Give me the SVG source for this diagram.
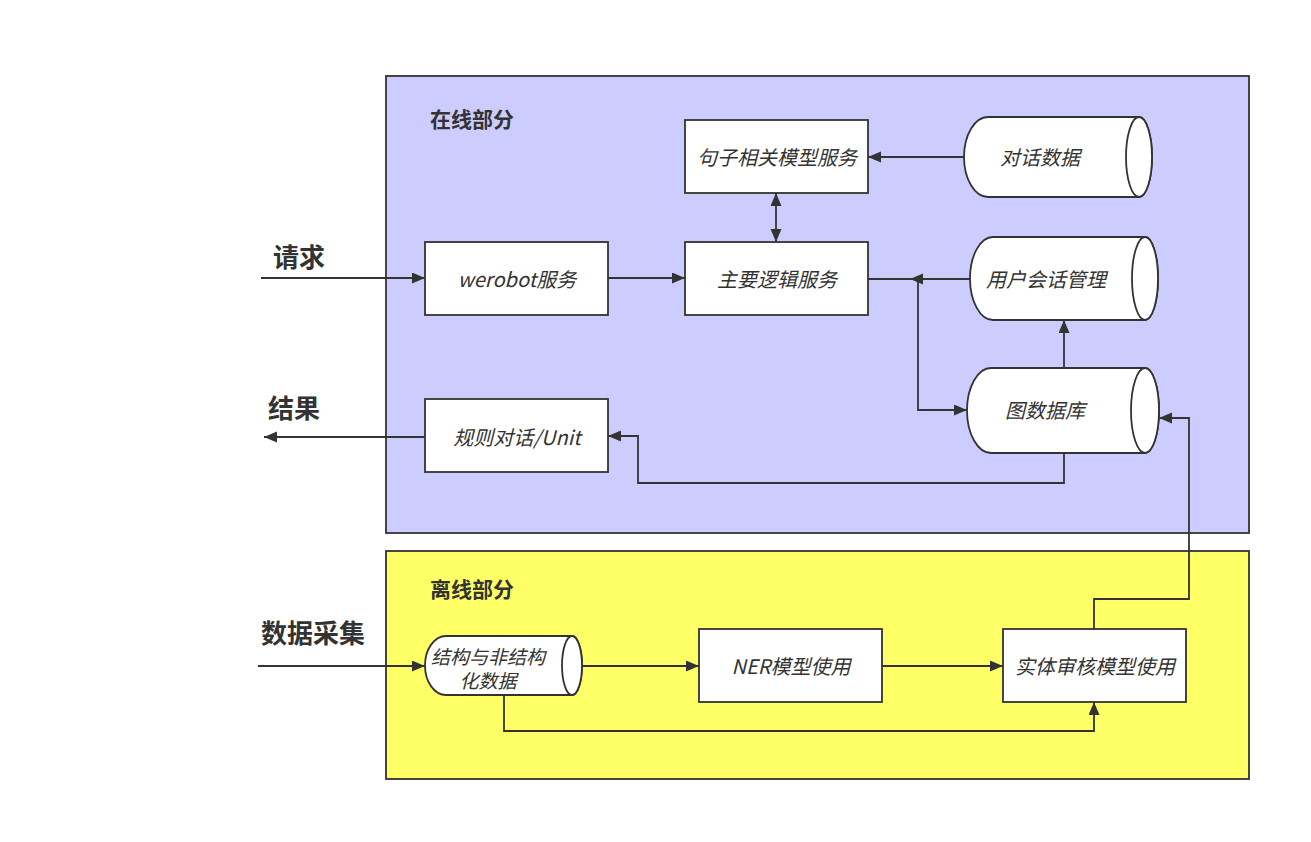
<svg xmlns="http://www.w3.org/2000/svg" width="1311" height="842" viewBox="0 0 1311 842">
<style>
.cont{stroke:#333;stroke-width:1.8}
.box{fill:#fff;stroke:#333;stroke-width:1.8}
.cyl{fill:#fff;stroke:#333;stroke-width:1.8}
.lbl{font-family:"Noto Sans CJK SC","Noto Sans",sans-serif;font-style:italic;font-size:20px;fill:#333;text-anchor:middle;dominant-baseline:central}
.big{font-family:"Noto Sans CJK SC","Noto Sans",sans-serif;font-weight:bold;font-size:26px;fill:#333;text-anchor:middle;dominant-baseline:central}
.sec{font-family:"Noto Sans CJK SC","Noto Sans",sans-serif;font-weight:bold;font-size:21px;fill:#333;text-anchor:middle;dominant-baseline:central}
.edge{fill:none;stroke:#333;stroke-width:1.8}
</style>
<defs>
<marker id="ah" markerUnits="userSpaceOnUse" markerWidth="14" markerHeight="12" refX="13" refY="5.5" orient="auto-start-reverse">
<path d="M0,0 L13,5.5 L0,11 Z" fill="#333"/>
</marker>
</defs>
<rect width="1311" height="842" fill="#fff"/>
<g id="online">
<rect class="cont" x="386" y="76" width="863" height="457" fill="#ccccff"/>
<text class="sec" x="472" y="118">在线部分</text>
</g>
<g id="offline">
<rect class="cont" x="386" y="551" width="863" height="228" fill="#ffff66"/>
<text class="sec" x="472" y="588">离线部分</text>
</g>
<g id="label-request"><text class="big" x="299" y="255">请求</text></g>
<g id="label-result"><text class="big" x="294" y="406">结果</text></g>
<g id="label-collect"><text class="big" x="313" y="631">数据采集</text></g>
<g id="connectors">
<path class="edge" d="M261,278 L425,278" marker-end="url(#ah)"/>
<path class="edge" d="M608,278 L685,278" marker-end="url(#ah)"/>
<path class="edge" d="M964,157 L868,157" marker-end="url(#ah)"/>
<path class="edge" d="M776,193 L776,242" marker-start="url(#ah)" marker-end="url(#ah)"/>
<path class="edge" d="M970,279 L910,279" marker-end="url(#ah)"/>
<path class="edge" d="M868,279 L918,279 L918,410 L967,410" marker-end="url(#ah)"/>
<path class="edge" d="M1064,368 L1064,320" marker-end="url(#ah)"/>
<path class="edge" d="M1064,453 L1064,483 L638,483 L638,436 L608,436" marker-end="url(#ah)"/>
<path class="edge" d="M425,437 L264,437" marker-end="url(#ah)"/>
<path class="edge" d="M1094,629 L1094,599 L1189,599 L1189,418 L1159,418" marker-end="url(#ah)"/>
<path class="edge" d="M258,666 L425,666" marker-end="url(#ah)"/>
<path class="edge" d="M582,666 L699,666" marker-end="url(#ah)"/>
<path class="edge" d="M882,666 L1003,666" marker-end="url(#ah)"/>
<path class="edge" d="M504,695 L504,731 L1094,731 L1094,702" marker-end="url(#ah)"/>
</g>
<g id="sentence-model">
<rect class="box" x="685" y="120" width="183" height="73"/>
<text class="lbl" x="777" y="156">句子相关模型服务</text>
</g>
<g id="werobot">
<rect class="box" x="425" y="242" width="183" height="73"/>
<text class="lbl" x="517" y="278">werobot服务</text>
</g>
<g id="main-logic">
<rect class="box" x="685" y="242" width="183" height="73"/>
<text class="lbl" x="777" y="278">主要逻辑服务</text>
</g>
<g id="rule-dialog">
<rect class="box" x="425" y="399" width="183" height="73"/>
<text class="lbl" x="517" y="436">规则对话/Unit</text>
</g>
<g id="dialog-data">
<path class="cyl" d="M988,117 L1139,117 A13,40 0 0 1 1139,197 L988,197 A24,40 0 0 1 988,117 Z"/>
<ellipse class="cyl" cx="1139" cy="157" rx="13" ry="40"/>
<text class="lbl" x="1040" y="156">对话数据</text>
</g>
<g id="session-mgmt">
<path class="cyl" d="M993,237 L1145,237 A13,41.5 0 0 1 1145,320 L993,320 A23,41.5 0 0 1 993,237 Z"/>
<ellipse class="cyl" cx="1145" cy="278.5" rx="13" ry="41.5"/>
<text class="lbl" x="1046" y="278">用户会话管理</text>
</g>
<g id="graph-db">
<path class="cyl" d="M991,368 L1145,368 A14,42.5 0 0 1 1145,453 L991,453 A24,42.5 0 0 1 991,368 Z"/>
<ellipse class="cyl" cx="1145" cy="410.5" rx="14" ry="42.5"/>
<text class="lbl" x="1045" y="409">图数据库</text>
</g>
<g id="raw-data">
<path class="cyl" d="M446,636 L572,636 A10,29.5 0 0 1 572,695 L446,695 A21,29.5 0 0 1 446,636 Z"/>
<ellipse class="cyl" cx="572" cy="665.5" rx="10" ry="29.5"/>
<text class="lbl" x="488" y="655" style="font-size:19px">结构与非结构</text>
<text class="lbl" x="488" y="679" style="font-size:19px">化数据</text>
</g>
<g id="ner">
<rect class="box" x="699" y="629" width="183" height="73"/>
<text class="lbl" x="791" y="665">NER模型使用</text>
</g>
<g id="entity-review">
<rect class="box" x="1003" y="629" width="183" height="73"/>
<text class="lbl" x="1095" y="665">实体审核模型使用</text>
</g>
</svg>
